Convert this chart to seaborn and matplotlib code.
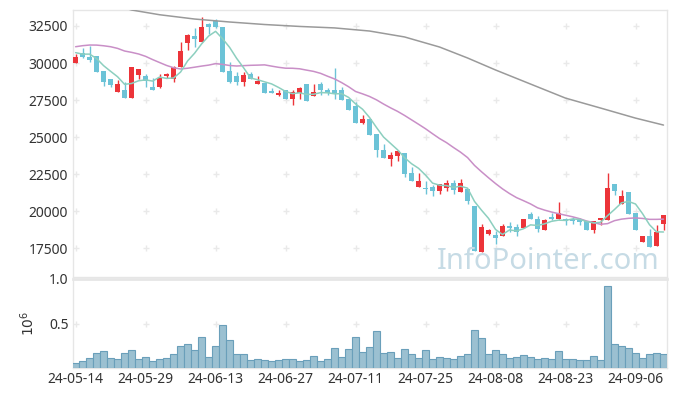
import numpy as np
import pandas as pd
import matplotlib
matplotlib.use("Agg")
import matplotlib.pyplot as plt
import seaborn as sns

# ---------------- data ----------------
holidays = ["2024-05-15", "2024-06-06", "2024-08-15"]
dates = pd.bdate_range("2024-05-14", "2024-09-12", freq="C", holidays=holidays)

open_ = [30000, 30650, 30400, 30500, 29450, 28900, 28050, 28200, 27650, 29200,
         29150, 28400, 28400, 29100, 28900, 29750, 31350, 31800, 31450, 32650,
         32850, 32450, 29450, 29150, 28750, 29250, 28550, 28650, 28100, 27850,
         28150, 27550, 28000, 28600, 27800, 28550, 28200, 28200, 28200, 27600,
         27100, 25950, 26250, 25200, 24150, 23550, 23750, 23950, 22550, 21650,
         21550, 21600, 21350, 21550, 21900, 21300, 21500, 20350, 17250, 18450,
         18400, 18350, 19000, 18900, 18850, 19800, 19500, 18750, 19600, 19500,
         19500, 19450, 19400, 19350, 18750, 19400, 19400, 21850, 20500, 21300,
         19850, 17900, 18300, 17650, 19100]
high = [30600, 31000, 31150, 30500, 29450, 28950, 28850, 28700, 29700, 29600,
        29250, 29000, 29250, 29300, 29800, 31400, 31950, 32350, 33100, 32700,
        33000, 32450, 30050, 29400, 29400, 29400, 29150, 28650, 28300, 28150,
        28150, 28200, 28350, 28600, 28600, 28750, 28300, 29650, 28350, 27600,
        27400, 26500, 26250, 25200, 24500, 24000, 24100, 23950, 23000, 22550,
        22050, 21750, 21800, 22100, 22100, 22150, 21500, 20350, 19150, 18800,
        18650, 19100, 19250, 19100, 19450, 19950, 19650, 19450, 19850, 20600,
        19550, 19600, 19550, 19350, 19350, 19550, 22600, 21850, 21400, 21300,
        19850, 18300, 18800, 19050, 19750]
low = [30000, 30350, 30100, 29400, 28450, 28400, 28050, 27650, 27650, 28950,
       28350, 28150, 28300, 29000, 28700, 29700, 30900, 31100, 31400, 31950,
       32350, 29400, 28650, 28500, 28450, 28950, 28550, 28000, 27950, 27750,
       27600, 27150, 27550, 27450, 27800, 27850, 27850, 27600, 27500, 26800,
       25950, 25850, 25150, 23650, 23600, 23050, 23400, 22300, 22050, 21600,
       21150, 21050, 21150, 21350, 21150, 21300, 20500, 17300, 17250, 18400,
       17800, 18350, 18600, 18300, 18850, 19450, 18600, 18750, 19400, 19500,
       19050, 19150, 19050, 18750, 18550, 19050, 19400, 21100, 20500, 19800,
       18700, 17900, 17600, 17650, 18700]
close = [30400, 30400, 30200, 29400, 28700, 28500, 28550, 27650, 29700, 29600,
         28800, 28150, 29000, 29250, 29750, 30800, 31900, 31600, 32400, 32400,
         32400, 29400, 28700, 28700, 29200, 28950, 28800, 28000, 28000, 28000,
         27600, 28050, 28300, 27450, 28050, 28150, 28000, 27950, 27500, 26800,
         25950, 26200, 25150, 24100, 23600, 23800, 24050, 22500, 22050, 22050,
         21500, 21350, 21800, 21900, 21450, 21900, 20700, 17300, 18950, 18700,
         18150, 19000, 18850, 18600, 19450, 19450, 18800, 19400, 19450, 19850,
         19350, 19300, 19250, 18750, 19350, 19550, 21550, 21350, 21000, 19800,
         18700, 18300, 17600, 18600, 19750]
volume = [53000, 79000, 109000, 165000, 191000, 109000, 98000, 165000, 199000, 98000,
          120000, 79000, 98000, 109000, 154000, 243000, 266000, 199000, 345000, 120000,
          243000, 479000, 311000, 154000, 154000, 86000, 98000, 90000, 79000, 90000,
          98000, 98000, 79000, 90000, 131000, 79000, 98000, 221000, 120000, 210000,
          345000, 176000, 232000, 412000, 165000, 176000, 109000, 210000, 154000, 109000,
          199000, 98000, 120000, 109000, 98000, 131000, 154000, 424000, 334000, 154000,
          199000, 154000, 109000, 120000, 142000, 120000, 98000, 109000, 98000, 187000,
          98000, 98000, 86000, 86000, 131000, 86000, 918000, 266000, 243000, 221000,
          165000, 109000, 154000, 165000, 154000]
# closes of the 19 sessions before the first shown day (estimated, feed the 5/20-day averages)
prior_close = [29000, 29300, 29500, 29600, 29800, 30800, 31200, 31500, 31800, 32000,
               32500, 33000, 33200, 32800, 32500, 30900, 30200, 30900, 31100]
# long moving average (gray line), read at these session positions
long_ma_pos = [0, 5, 8, 12, 17, 22, 27, 32, 37, 42, 47, 52, 56, 60, 65, 70, 75, 80, 84]
long_ma_val = [34300, 33990, 33580, 33260, 32970, 32770, 32600, 32470, 32370, 32160,
               31760, 31080, 30340, 29530, 28580, 27630, 26960, 26280, 25810]

price_ticks = [17500, 20000, 22500, 25000, 27500, 30000, 32500]
vol_ticks = [0.5, 1.0]
date_tick_pos = list(range(0, 85, 10))

# ---------------- style ----------------
sns.set_theme(style="white")
plt.rcParams["font.family"] = ["Noto Sans", "DejaVu Sans"]
TXT = "#333333"
RED = "#ec3439"
BLUE = "#6cc3d7"
GRID = "#e9e9e9"
SPINE = "#e6e6e6"

n = len(close)
idx = np.arange(n)
df = pd.DataFrame({"pos": idx, "open": open_, "high": high, "low": low,
                   "close": close, "volume": np.array(volume) / 1e6})
all_close = pd.Series(prior_close + close, dtype=float)
df["ma5"] = all_close.rolling(5).mean().to_numpy()[len(prior_close):]
df["ma20"] = all_close.rolling(20).mean().to_numpy()[len(prior_close):]
long_df = pd.DataFrame({"pos": long_ma_pos, "ma": long_ma_val})

fig = plt.figure(figsize=(6.77, 3.96), dpi=100)
L, R = 73.3 / 677, 667 / 677
ax = fig.add_axes([L, 1 - 277 / 396, R - L, (277 - 10) / 396])
axv = fig.add_axes([L, 1 - 368 / 396, R - L, (368 - 279) / 396], sharex=ax)

xlim = (-0.33, 84.5)

# candles
up = df["close"] >= df["open"]
colors = np.where(up, RED, BLUE)
body_bot = np.minimum(df["open"], df["close"])
body_h = np.maximum(np.abs(df["close"] - df["open"]), 40)
ax.vlines(df["pos"], df["low"], df["high"], colors=colors, linewidth=1.0, zorder=2)
ax.bar(df["pos"], body_h, bottom=body_bot, width=0.72, color=colors,
       linewidth=0, zorder=3)

# moving averages
sns.lineplot(data=long_df, x="pos", y="ma", ax=ax, color="#9a9a9a", linewidth=1.1, zorder=4)
sns.lineplot(data=df, x="pos", y="ma20", ax=ax, color="#c98fc7", linewidth=1.1, zorder=4)
sns.lineplot(data=df, x="pos", y="ma5", ax=ax, color="#8ccfbf", linewidth=1.1, zorder=5)

ax.set_ylim(15550, 33580)
ax.set_xlim(*xlim)
ax.set_yticks(price_ticks)
ax.set_yticklabels([str(t) for t in price_ticks])
ax.set_xlabel("")
ax.set_ylabel("")
ax.tick_params(axis="x", labelbottom=False, length=0)
ax.tick_params(axis="y", length=0, labelsize=10, labelcolor=TXT, pad=4)

gx, gy = np.meshgrid(date_tick_pos, price_ticks)
ax.scatter(gx.ravel(), gy.ravel(), marker="+", s=20, color=GRID, linewidths=1, zorder=1)

ax.text(0.988, 0.03, "InfoPointer.com", transform=ax.transAxes, ha="right", va="baseline",
        fontsize=21, color="#c6dbe5", zorder=6)

for s in ["left", "right", "top", "bottom"]:
    ax.spines[s].set_color(SPINE)
    ax.spines[s].set_linewidth(1)

# volume
sns.barplot(data=df, x="pos", y="volume", ax=axv, native_scale=True, width=1.0,
            color="#9bc0d1", edgecolor="#6a9fba", linewidth=0.8, saturation=1, zorder=3)
axv.set_ylim(0, 1.0)
axv.set_xlim(*xlim)
axv.set_yticks(vol_ticks)
axv.set_yticklabels(["0.5", "1.0"])
axv.set_xticks(date_tick_pos)
axv.set_xticklabels([dates[i].strftime("%y-%m-%d") for i in date_tick_pos])
axv.tick_params(axis="both", length=0, labelsize=10, labelcolor=TXT)
axv.tick_params(axis="x", pad=3)
axv.set_xlabel("")
axv.set_ylabel(r"$10^{6}$", color=TXT, fontsize=10, labelpad=8)
vx, vy = np.meshgrid(date_tick_pos, [0.5])
axv.scatter(vx.ravel(), vy.ravel(), marker="+", s=20, color=GRID, linewidths=1, zorder=1)
for s in ["left", "right", "bottom"]:
    axv.spines[s].set_color(SPINE)
    axv.spines[s].set_linewidth(1)
axv.spines["top"].set_color("#e6e6e6")
axv.spines["top"].set_linewidth(2)

fig.savefig("out.png", dpi=100)
